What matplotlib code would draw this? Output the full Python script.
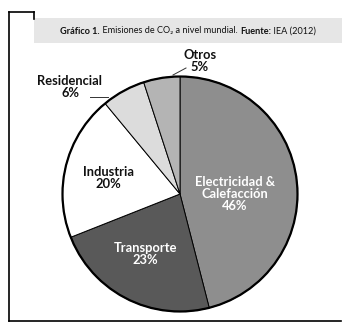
import matplotlib.pyplot as plt
from matplotlib.patches import Circle, Rectangle

# datos del grafico
sectores = ["Electricidad &\nCalefacción", "Transporte", "Industria", "Residencial", "Otros"]
porcentajes = [46, 23, 20, 6, 5]
colores = ["#8e8e8e", "#595959", "#ffffff", "#dcdcdc", "#b4b4b4"]

W, H = 349, 331
fig = plt.figure(figsize=(W / 100, H / 100), dpi=100)
ax = fig.add_axes([0, 0, 1, 1])

def Y(y):
    # coordenadas de imagen -> coordenadas del eje
    return H - y

cx, cy, r = 180, Y(194), 117.5
wedges, _ = ax.pie(porcentajes, colors=colores, startangle=90, counterclock=False,
                   center=(cx, cy), radius=r, frame=True,
                   wedgeprops=dict(edgecolor="black", linewidth=0.7))
ax.add_patch(Circle((cx, cy), r, fill=False, edgecolor="black", linewidth=1.6, zorder=5))

ax.set_xlim(0, W)
ax.set_ylim(0, H)
ax.set_aspect("auto")
ax.axis("off")

# marco
ax.plot([9, 9], [Y(12), Y(321)], color="black", lw=1.2)
ax.plot([9, 34], [Y(12), Y(12)], color="black", lw=1.2)
ax.plot([34, 34], [Y(12), Y(19)], color="black", lw=1.2)
ax.plot([9, 341], [Y(321), Y(321)], color="black", lw=1.2)

# caja del titulo
ax.add_patch(Rectangle((34, Y(43)), 308, 25, facecolor="#e6e6e6", edgecolor="none"))

fam = ["Lato", "DejaVu Sans"]
partes = [("Gráfico 1.", "bold"), (" Emisiones de CO₂ a nivel mundial. ", "normal"),
          ("Fuente:", "bold"), (" IEA (2012)", "normal")]
fig.canvas.draw()
rend = fig.canvas.get_renderer()
textos = []
x = 0
for s, w in partes:
    t = ax.text(x, Y(31), s, fontsize=6.6, fontweight=w, family=fam, va="center", ha="left", color="#111111")
    textos.append(t)
    x += t.get_window_extent(rend).width
x0 = 188 - x / 2
for t in textos:
    px, py = t.get_position()
    t.set_x(px + x0)

# etiquetas
lab = dict(fontsize=9.3, fontweight="bold", family=fam, ha="center", va="center", linespacing=0.95)
ax.text(235, Y(194), "Electricidad &\nCalefacción\n46%", color="white", **lab)
ax.text(145, Y(254), "Transporte\n23%", color="white", **lab)
ax.text(108, Y(178), "Industria\n20%", color="#111111", **lab)
ax.text(70, Y(87), "Residencial\n6%", color="#111111", **lab)
ax.text(200, Y(61), "Otros\n5%", color="#111111", **lab)

# lineas guia
ax.plot([90, 108], [Y(97), Y(97)], color="#333333", lw=0.7)
ax.plot([173, 186], [Y(75), Y(68)], color="#333333", lw=0.7)

fig.savefig("out.png", dpi=100)
